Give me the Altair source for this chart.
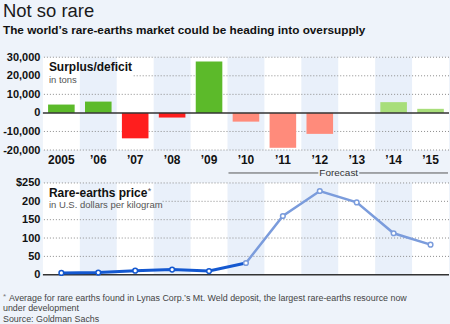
import altair as alt
import pandas as pd

# ---------------- data ----------------
years = ["2005", "’06", "’07", "’08", "’09", "’10", "’11", "’12", "’13", "’14", "’15"]
surplus = [4500, 6100, -13700, -2500, 27700, -4700, -18800, -11300, 0, 5800, 2200]
price = [5, 6, 11, 14, 10, 32, 160, 228, 197, 113, 82]
forecast_start = "’10"
shaded_years = ["’06", "’08", "’10", "’12", "’14"]
surplus_ticks = [-20000, -10000, 0, 10000, 20000, 30000]
price_ticks = [0, 50, 100, 150, 200, 250]

# ---------------- style ----------------
BG = "#eef3fa"
BAND = "#e9f0fa"
GRID = "#8c8c8c"
FONT = "Liberation Sans, Arial, sans-serif"
W, H1, H2 = 407, 93, 92

fc_idx = years.index(forecast_start)


def kind(i, v):
    return ("fc" if i >= fc_idx else "act") + ("_pos" if v >= 0 else "_neg")


bars_df = pd.DataFrame({"year": years, "value": surplus,
                        "kind": [kind(i, v) for i, v in enumerate(surplus)]})
bars_df = bars_df[bars_df.value != 0]

rows = []
for i, (yr, p) in enumerate(zip(years, price)):
    if i <= fc_idx:
        rows.append({"year": yr, "price": p, "seg": "act"})
    if i >= fc_idx:
        rows.append({"year": yr, "price": p, "seg": "fc"})
line_df = pd.DataFrame(rows)
pts_df = pd.DataFrame({"year": years, "price": price,
                       "seg": ["act" if i < fc_idx else "fc" for i in range(len(years))]})
band_df = pd.DataFrame({"year": shaded_years})

xscale = alt.Scale(domain=years, paddingInner=0, paddingOuter=0)
xaxis_top = alt.Axis(title=None, labelAngle=0, domain=False, ticks=False, grid=False,
                     labelFont=FONT, labelFontSize=12, labelFontWeight="bold",
                     labelColor="#111", labelPadding=5)


def xt(**kw):
    return alt.X("year:N", sort=years, scale=xscale, axis=xaxis_top, **kw)


def xb(**kw):
    return alt.X("year:N", sort=years, scale=xscale, axis=None, **kw)


yaxis_top = alt.Axis(title=None, values=surplus_ticks, grid=False, domain=False, ticks=False,
                     labelFont=FONT, labelFontSize=11, labelFontWeight="bold",
                     labelColor="#111", labelPadding=3,
                     labelExpr="datum.value < 0 ? '-' + format(-datum.value, ',') : format(datum.value, ',')")
yscale_top = alt.Scale(domain=[-20000, 30000], nice=False, zero=False)

yaxis_bot = alt.Axis(title=None, values=price_ticks, grid=False, domain=False, ticks=False,
                     labelFont=FONT, labelFontSize=11, labelFontWeight="bold",
                     labelColor="#111", labelPadding=3,
                     labelExpr="datum.value == 250 ? '$250' : datum.label")
yscale_bot = alt.Scale(domain=[0, 250], nice=False, zero=False)


def yt(field):
    return alt.Y(field, scale=yscale_top, axis=yaxis_top)


def yb(field):
    return alt.Y(field, scale=yscale_bot, axis=yaxis_bot)


def label(txt, x, y, size, weight="normal", color="#111", align="left"):
    return alt.Chart(pd.DataFrame({"t": [txt]})).mark_text(
        align=align, baseline="alphabetic", font=FONT, fontSize=size,
        fontWeight=weight, color=color
    ).encode(text="t:N", x=alt.value(x), y=alt.value(y))


# ---------------- top panel ----------------
bands_top = alt.Chart(band_df).mark_rect(color=BAND).encode(
    x=xt(), y=alt.value(0), y2=alt.value(H1))

gt_full = alt.Chart(pd.DataFrame({"v": [-20000, -10000, 10000, 30000]})).mark_rule(
    color=GRID, strokeDash=[1, 2], strokeWidth=1).encode(y=yt("v:Q"))
gt_part = alt.Chart(pd.DataFrame({"v": [20000]})).mark_rule(
    color=GRID, strokeDash=[1, 2], strokeWidth=1).encode(
    y=yt("v:Q"), x=alt.value(91), x2=alt.value(W))

bars = alt.Chart(bars_df).mark_bar(width=alt.RelativeBandSize(0.72)).encode(
    x=xt(), y=yt("value:Q"),
    color=alt.Color("kind:N", legend=None, scale=alt.Scale(
        domain=["act_pos", "act_neg", "fc_pos", "fc_neg"],
        range=["#5cba2a", "#ff1e1e", "#a8de7a", "#ff8b7b"])))

zero_top = alt.Chart(pd.DataFrame({"v": [0]})).mark_rule(color="#333", strokeWidth=1.5).encode(
    y=yt("v:Q"))

fc_rule1 = alt.Chart(pd.DataFrame({"v": [0]})).mark_rule(color="#555", strokeWidth=1).encode(
    x=alt.value(186), x2=alt.value(276), y=alt.value(116))
fc_rule2 = alt.Chart(pd.DataFrame({"v": [0]})).mark_rule(color="#555", strokeWidth=1).encode(
    x=alt.value(317), x2=alt.value(406), y=alt.value(116))
fc_text = alt.Chart(pd.DataFrame({"t": ["Forecast"]})).mark_text(
    align="center", baseline="middle", font=FONT, fontSize=10, color="#333").encode(
    text="t:N", x=alt.value(296.5), y=alt.value(116))

top = alt.layer(
    bands_top, gt_full, gt_part, bars, zero_top, fc_rule1, fc_rule2, fc_text,
    label("Not so rare", -40, -40, 18.5, "normal", "#1a1a1a"),
    label("The world’s rare-earths market could be heading into oversupply", -40, -23, 11.8,
          "bold", "#111"),
    label("Surplus/deficit", 6, 14, 12, "bold", "#111"),
    label("in tons", 6, 26, 9.5, "normal", "#555"),
).properties(width=W, height=H1)

# ---------------- bottom panel ----------------
bands_bot = alt.Chart(band_df).mark_rect(color=BAND).encode(
    x=xb(), y=alt.value(0), y2=alt.value(H2))

gb_full = alt.Chart(pd.DataFrame({"v": [50, 100, 150, 250]})).mark_rule(
    color=GRID, strokeDash=[1, 2], strokeWidth=1).encode(y=yb("v:Q"))
gb_part = alt.Chart(pd.DataFrame({"v": [200]})).mark_rule(
    color=GRID, strokeDash=[1, 2], strokeWidth=1).encode(
    y=yb("v:Q"), x=alt.value(120), x2=alt.value(W))

zero_bot = alt.Chart(pd.DataFrame({"v": [0]})).mark_rule(color="#333", strokeWidth=1.5).encode(
    y=yb("v:Q"))

line_act = alt.Chart(line_df).transform_filter("datum.seg == 'act'").mark_line(
    color="#1458d0", strokeWidth=3).encode(x=xb(bandPosition=0.5), y=yb("price:Q"))
line_fc = alt.Chart(line_df).transform_filter("datum.seg == 'fc'").mark_line(
    color="#7b9cdc", strokeWidth=2.5).encode(x=xb(bandPosition=0.5), y=yb("price:Q"))

pts = alt.Chart(pts_df).mark_point(shape="circle", filled=True, fill="white", strokeWidth=1.5,
                                   size=22, opacity=1).encode(
    x=xb(bandPosition=0.5), y=yb("price:Q"),
    stroke=alt.Stroke("seg:N", legend=None,
                      scale=alt.Scale(domain=["act", "fc"], range=["#1458d0", "#7b9cdc"])))

bottom = alt.layer(
    bands_bot, gb_full, gb_part, zero_bot, line_act, line_fc, pts,
    label("Rare-earths price", 6, 14, 12, "bold", "#111"),
    label("*", 105, 11, 9, "normal", "#555"),
    label("in U.S. dollars per kilogram", 6, 25, 9.5, "normal", "#555"),
    label("*", -40, 116, 8, "normal", "#777"),
    label("Average for rare earths found in Lynas Corp.’s Mt. Weld deposit, the largest rare-earths resource now",
          -34, 118, 8.9, "normal", "#444"),
    label("under development", -40, 128.5, 8.9, "normal", "#444"),
    label("Source: Goldman Sachs", -40, 139, 8.9, "normal", "#444"),
).properties(width=W, height=H2)

chart = alt.vconcat(top, bottom, spacing=33, bounds="flush").configure(
    background=BG, padding={"left": 2, "top": 2, "right": 0, "bottom": 0}
).configure_view(stroke=None, fill="white")

chart.save("out.html", embed_options={"renderer": "svg", "actions": False})
